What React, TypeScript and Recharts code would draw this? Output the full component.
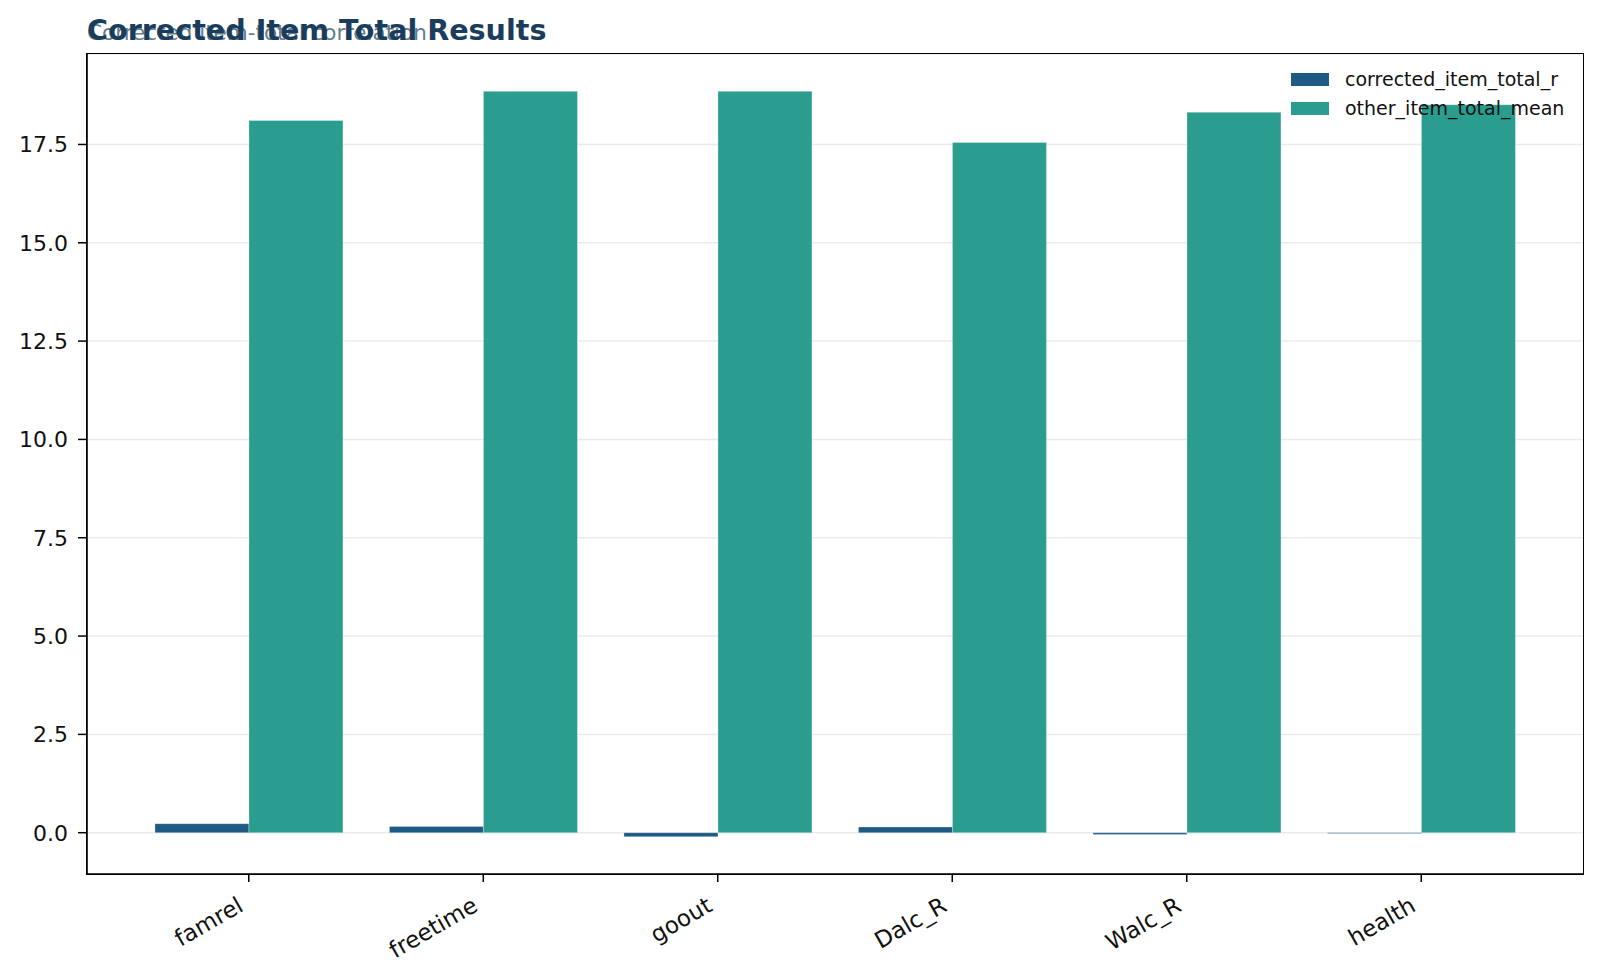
import React from 'react';
import { BarChart, Bar, XAxis, YAxis, CartesianGrid, Legend } from 'recharts';

const categories = ['famrel', 'freetime', 'goout', 'Dalc_R', 'Walc_R', 'health'];
const correctedItemTotalR = [0.23, 0.16, -0.1, 0.145, -0.043, -0.018];
const otherItemTotalMean = [18.11, 18.85, 18.85, 17.55, 18.32, 18.51];
const yTicks = [0, 2.5, 5, 7.5, 10, 12.5, 15, 17.5];

const data = categories.map((name, i) => ({
  name,
  corrected_item_total_r: correctedItemTotalR[i],
  other_item_total_mean: otherItemTotalMean[i],
}));

const FONT = '"DejaVu Sans", sans-serif';
const BLUE = '#1f5a85';
const TEAL = '#2a9d8f';

const CHART_W = 1600;
const CHART_H = 978;
const MARGIN = { top: 54, right: 17, bottom: 0, left: 0 };
const Y_AXIS_W = 87;
const X_AXIS_H = 104;

const XTick = (props: any) => {
  const { x, y, payload } = props;
  const ax = x - 4;
  const ay = y + 26;
  return (
    <text
      x={ax}
      y={ay}
      textAnchor="end"
      fill="#111"
      fontSize={23}
      fontFamily={FONT}
      transform={`rotate(-30, ${ax}, ${ay})`}
    >
      {payload.value}
    </text>
  );
};

const LegendContent = (props: any) => {
  const { payload } = props;
  return (
    <div style={{ fontFamily: FONT, fontSize: 19, color: '#111' }}>
      {(payload || []).map((p: any) => (
        <div key={p.value} style={{ display: 'flex', alignItems: 'center', height: 29 }}>
          <div style={{ width: 38, height: 13, background: p.color, marginRight: 16 }} />
          <span style={{ whiteSpace: 'nowrap', lineHeight: '29px' }}>{p.value}</span>
        </div>
      ))}
    </div>
  );
};

export default function App() {
  const plotLeft = MARGIN.left + Y_AXIS_W;
  const plotTop = MARGIN.top;
  const plotW = CHART_W - MARGIN.right - plotLeft;
  const plotH = CHART_H - MARGIN.bottom - X_AXIS_H - plotTop;
  return (
    <div style={{ position: 'absolute', left: 0, top: 0, width: CHART_W, height: CHART_H, background: '#fff' }}>
      <BarChart
        width={CHART_W}
        height={CHART_H}
        data={data}
        margin={MARGIN}
        barCategoryGap="10%"
        barGap={0}
      >
        <XAxis
          dataKey="name"
          height={X_AXIS_H}
          padding={{ left: 44.5, right: 44.5 }}
          tickSize={8}
          tickMargin={2}
          tickLine={{ stroke: '#000', strokeWidth: 1.5 }}
          axisLine={{ stroke: '#000', strokeWidth: 1.6 }}
          tick={<XTick />}
          interval={0}
        />
        <YAxis
          width={Y_AXIS_W}
          domain={[-1.05, 19.8]}
          ticks={yTicks}
          allowDataOverflow
          tickSize={9}
          tickMargin={10}
          tickLine={{ stroke: '#000', strokeWidth: 1.5 }}
          axisLine={{ stroke: '#000', strokeWidth: 1.6 }}
          tick={{ fill: '#111', fontSize: 22, fontFamily: FONT }}
          tickFormatter={(v: number) => v.toFixed(1)}
        />
        <Bar
          dataKey="corrected_item_total_r"
          name="corrected_item_total_r"
          fill={BLUE}
          stroke="#ffffff"
          strokeOpacity={0.5}
          strokeWidth={0.6}
          isAnimationActive={false}
        />
        <Bar
          dataKey="other_item_total_mean"
          name="other_item_total_mean"
          fill={TEAL}
          stroke="#ffffff"
          strokeOpacity={0.5}
          strokeWidth={0.6}
          isAnimationActive={false}
        />
        <CartesianGrid
          vertical={false}
          stroke="#000"
          strokeOpacity={0.08}
          strokeWidth={1.5}
        />
        <Legend
          layout="vertical"
          align="center"
          verticalAlign="middle"
          content={<LegendContent />}
          wrapperStyle={{ position: 'absolute', top: 65, left: 1291, width: 290 }}
        />
      </BarChart>
      <div
        style={{
          position: 'absolute',
          left: plotLeft - 0.8,
          top: plotTop - 0.8,
          width: plotW,
          height: plotH,
          border: '1.6px solid #000',
          pointerEvents: 'none',
        }}
      />
      <svg
        width={CHART_W}
        height={60}
        style={{ position: 'absolute', left: 0, top: 0, pointerEvents: 'none' }}
      >
        <text x={87} y={40} fontFamily={FONT} fontSize={21.5} fill="#4f6b80" fillOpacity={0.9}>
          Corrected item-total correlation
        </text>
        <text x={87} y={40} fontFamily={FONT} fontSize={28.6} fontWeight="bold" fill="#1b3d5c">
          Corrected Item Total Results
        </text>
      </svg>
    </div>
  );
}
